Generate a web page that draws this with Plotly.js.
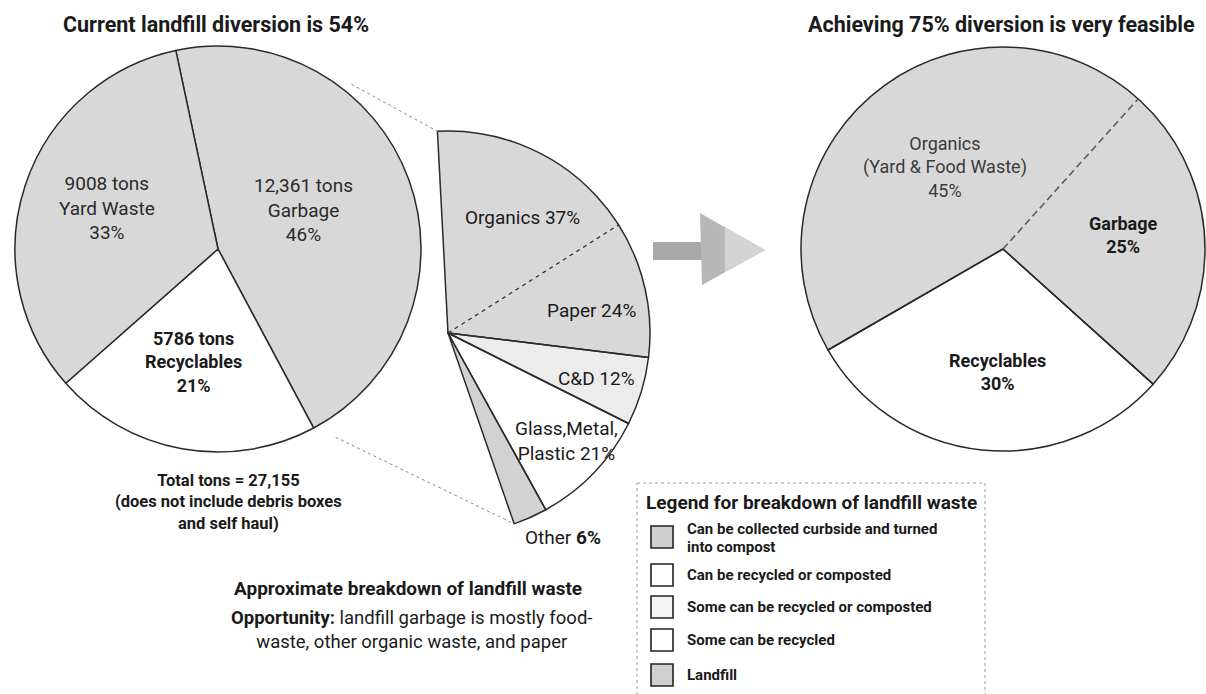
<!DOCTYPE html>
<html>
<head>
<meta charset="utf-8">
<script src="https://cdn.plot.ly/plotly-3.0.1.min.js"></script>
<style>
  html, body { margin: 0; padding: 0; background: #ffffff; }
  #chart { width: 1206px; height: 694px; }
</style>
</head>
<body>
<div id="chart"></div>
<script>
// ---- Data -------------------------------------------------------------
// Current waste stream, tons per year
const currentLabels = ['Garbage', 'Recyclables', 'Yard Waste'];
const currentTons = [12361, 5786, 9008];

// Approximate composition of the landfilled garbage, percent
const garbageLabels = ['Organics', 'Paper', 'C&D', 'Glass,Metal,<br>Plastic', 'Other'];
const garbagePct = [37, 24, 12, 21, 6];

// Target waste stream at 75% diversion, percent
const targetLabels = ['Organics<br>(Yard & Food Waste)', 'Garbage', 'Recyclables'];
const targetPct = [45, 25, 30];

// Legend entries for the landfill breakdown
const legendItems = [
  'Can be collected curbside and turned|into compost',
  'Can be recycled or composted',
  'Some can be recycled or composted',
  'Some can be recycled',
  'Landfill'
];

// ---- Page geometry (pixels) ------------------------------------------
const W = 1206, H = 694;
const LEFT = { cx: 218, cy: 249, r: 203, rot: -12 };
const MID = { cx: 448, cy: 333, r: 202, rot: -3 };
const RIGHT = { cx: 1003, cy: 249, r: 202, rot: 240 };

const FONT = 'Roboto, "Noto Sans", "DejaVu Sans", sans-serif';
const INK = '#1a1a1a';
const LINE = '#2a2a2a';
const GREY = '#d8d8d8';
const LIGHT = '#ececec';
const WHITE = '#ffffff';
const CLEAR = 'rgba(0,0,0,0)';

const px = x => x / W;
const py = y => 1 - y / H;
function domainOf(g) {
  return { x: [px(g.cx - g.r), px(g.cx + g.r)], y: [py(g.cy + g.r), py(g.cy - g.r)] };
}
function rim(g, deg, rr) {
  const a = deg * Math.PI / 180, R = rr === undefined ? g.r : rr;
  return [g.cx + R * Math.sin(a), g.cy - R * Math.cos(a)];
}
const sum = a => a.reduce((s, v) => s + v, 0);
const fmtTons = n => n >= 10000 ? n.toLocaleString('en-US') : String(n);
const boldLines = t => '<b>' + t.split('<br>').join('</b><br><b>') + '</b>';

const totalTons = sum(currentTons);
const garbageShare = currentTons[0] / totalTons;
const restOfCircle = 100 * (1 - garbageShare) / garbageShare;

// ---- Traces -----------------------------------------------------------
const base = { type: 'pie', sort: false, direction: 'clockwise', textinfo: 'none',
               textposition: 'none', showlegend: false };

const traces = [
  // current stream
  Object.assign({}, base, {
    values: currentTons, labels: currentLabels, rotation: LEFT.rot, domain: domainOf(LEFT),
    marker: { colors: [GREY, WHITE, GREY], line: { color: LINE, width: 1.5 } },
    hoverinfo: 'label+value+percent'
  }),
  // garbage breakdown: fills (the garbage slice pulled out; rest of the circle left empty)
  Object.assign({}, base, {
    values: garbagePct.concat([restOfCircle]),
    labels: garbageLabels.concat(['']),
    rotation: MID.rot, domain: domainOf(MID),
    marker: { colors: [GREY, GREY, LIGHT, WHITE, '#d2d2d2', CLEAR], line: { width: 0 } },
    hoverinfo: 'none'
  }),
  // garbage breakdown: outlines (organics and paper share one outline)
  Object.assign({}, base, {
    values: [garbagePct[0] + garbagePct[1]].concat(garbagePct.slice(2), [restOfCircle]),
    labels: ['a', 'b', 'c', 'd', 'e'],
    rotation: MID.rot, domain: domainOf(MID),
    marker: { colors: [CLEAR, CLEAR, CLEAR, CLEAR, CLEAR],
              line: { color: LINE, width: [1.5, 1.5, 1.5, 1.5, 0] } },
    hoverinfo: 'skip'
  }),
  // target stream: fills
  Object.assign({}, base, {
    values: targetPct, labels: targetLabels, rotation: RIGHT.rot, domain: domainOf(RIGHT),
    marker: { colors: [GREY, GREY, WHITE], line: { width: 0 } },
    hoverinfo: 'label+percent'
  }),
  // target stream: outlines (organics and garbage share one outline)
  Object.assign({}, base, {
    values: [targetPct[0] + targetPct[1], targetPct[2]], labels: ['a', 'b'],
    rotation: RIGHT.rot, domain: domainOf(RIGHT),
    marker: { colors: [CLEAR, CLEAR], line: { color: LINE, width: 1.5 } },
    hoverinfo: 'skip'
  })
];

// ---- Shapes -----------------------------------------------------------
const shapes = [];
function segment(p0, p1, line) {
  shapes.push({ type: 'line', xref: 'paper', yref: 'paper',
                x0: px(p0[0]), y0: py(p0[1]), x1: px(p1[0]), y1: py(p1[1]), line: line });
}
function polygon(pts, fill) {
  const d = pts.map((p, i) => (i ? 'L' : 'M') + px(p[0]) + ',' + py(p[1])).join(' ') + ' Z';
  shapes.push({ type: 'path', xref: 'paper', yref: 'paper', path: d,
                fillcolor: fill, line: { width: 0 } });
}

// dashed divider between organics and paper
const organicsEnd = MID.rot + 360 * garbageShare * garbagePct[0] / 100;
segment([MID.cx, MID.cy], rim(MID, organicsEnd), { color: '#333', width: 1.3, dash: '4px,4px' });
// dashed divider between organics and garbage in the target stream
const targetOrganicsEnd = RIGHT.rot + 360 * targetPct[0] / 100;
segment([RIGHT.cx, RIGHT.cy], rim(RIGHT, targetOrganicsEnd), { color: '#555', width: 1.5, dash: '7px,4px' });

// dotted leaders from the garbage slice to its breakdown
const midEnd = MID.rot + 360 * garbageShare;
segment(rim(LEFT, 39, 212), rim(MID, MID.rot), { color: '#8a8a8a', width: 1, dash: 'dot' });
segment(rim(LEFT, 148, 222), rim(MID, midEnd), { color: '#8a8a8a', width: 1, dash: 'dot' });

// arrow between current and target
polygon([[653, 242], [712, 242], [712, 260], [653, 260]], '#a9a9a9');
polygon([[700, 213], [765, 250], [702, 285]], '#b7b7b7');
polygon([[725, 227], [765, 250], [725, 272]], '#d4d4d4');

// legend frame
shapes.push({ type: 'rect', xref: 'paper', yref: 'paper', x0: px(637), x1: px(985),
              y0: py(483), y1: py(700), fillcolor: CLEAR,
              line: { color: '#a0a0a0', width: 1, dash: 'dot' } });
const legendY = [537, 575, 607, 640, 675];
const legendFill = ['#cfcfcf', WHITE, '#f3f3f3', WHITE, '#d0d0d0'];
legendY.forEach((y, i) => {
  shapes.push({ type: 'rect', xref: 'paper', yref: 'paper', x0: px(651), x1: px(673),
                y0: py(y + 11), y1: py(y - 11), fillcolor: legendFill[i],
                line: { color: '#222', width: 1.6 } });
});

// ---- Annotations ------------------------------------------------------
const annotations = [];
function label(x, y, text, size, opts) {
  annotations.push(Object.assign({ xref: 'paper', yref: 'paper', x: px(x), y: py(y),
    text: text, showarrow: false, xanchor: 'center', yanchor: 'middle', align: 'center',
    font: { family: FONT, size: size, color: INK } }, opts || {}));
}

// titles
label(216, 24, '<b>Current landfill diversion is ' + (100 - Math.round(100 * garbageShare)) + '%</b>', 21.5);
label(1001, 24, '<b>Achieving 75% diversion is very feasible</b>', 21.5);

// current stream labels
const currentLabelPos = [[303, 210], [193, 362], [107, 208]];
currentLabels.forEach((name, i) => {
  const pct = Math.round(100 * currentTons[i] / totalTons);
  const txt = fmtTons(currentTons[i]) + ' tons<br>' + name + '<br>' + pct + '%';
  const bold = i === 1;
  label(currentLabelPos[i][0], currentLabelPos[i][1], bold ? boldLines(txt) : txt, 19,
        { font: { family: FONT, size: bold ? 18 : 19, color: bold ? INK : '#2a2a2a' } });
});

// garbage breakdown labels
const garbageLabelPos = [[522, 218], [591, 310], [596, 378], [566, 441], [563, 537]];
garbageLabels.forEach((name, i) => {
  const pctText = i === garbageLabels.length - 1 ? '<b>' + garbagePct[i] + '%</b>' : garbagePct[i] + '%';
  label(garbageLabelPos[i][0], garbageLabelPos[i][1], name + ' ' + pctText, 19);
});

// target stream labels
const targetLabelPos = [[945, 167], [1123, 235], [997, 372]];
targetLabels.forEach((name, i) => {
  const txt = name + '<br>' + targetPct[i] + '%';
  label(targetLabelPos[i][0], targetLabelPos[i][1], i === 0 ? txt : boldLines(txt), 18,
        { font: { family: FONT, size: 18, color: i === 0 ? '#3a3a3a' : INK } });
});

// notes
label(228, 502, boldLines('Total tons = ' + totalTons.toLocaleString('en-US') +
      '<br>(does not include debris boxes<br>and self haul)'), 16.5);
label(408, 588, '<b>Approximate breakdown of landfill waste</b>', 19);
label(411, 630, '<b>Opportunity:</b> landfill garbage is mostly food-<br>waste, other organic waste, and paper', 18.5);

// legend text
label(811, 503, '<b>Legend for breakdown of landfill waste</b>', 19);
legendItems.forEach((item, i) => {
  const lines = item.split('|');
  if (lines.length === 2) {
    label(685, legendY[i] - 8, '<b>' + lines[0] + '</b>', 15, { xanchor: 'left', align: 'left' });
    label(685, legendY[i] + 10, '<b>' + lines[1] + '</b>', 15, { xanchor: 'left', align: 'left' });
  } else {
    label(685, legendY[i], '<b>' + item + '</b>', 15, { xanchor: 'left', align: 'left' });
  }
});

const layout = {
  width: W, height: H,
  margin: { l: 0, r: 0, t: 0, b: 0 },
  paper_bgcolor: '#ffffff', plot_bgcolor: '#ffffff',
  showlegend: false,
  shapes: shapes,
  annotations: annotations,
  font: { family: FONT, color: INK }
};

Plotly.newPlot('chart', traces, layout, { displayModeBar: false, staticPlot: true });
</script>
</body>
</html>
